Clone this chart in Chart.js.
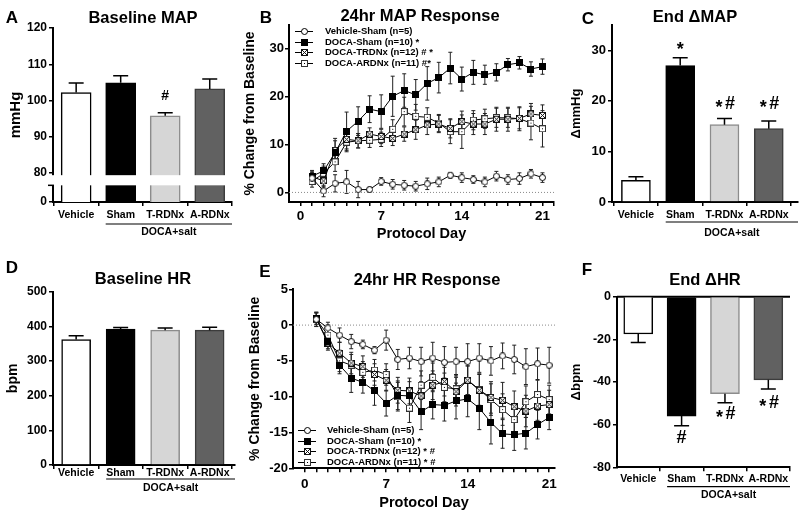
<!DOCTYPE html>
<html>
<head>
<meta charset="utf-8">
<script src="https://cdn.jsdelivr.net/npm/chart.js@4.4.1/dist/chart.umd.min.js"></script>
<style>
  body { margin: 0; width: 800px; height: 518px; position: relative; overflow: hidden; background: #fff;
         font-family: "Liberation Sans", Arial, sans-serif; font-weight: bold; color: #000; }
  .panel { position: absolute; }
  .txt { position: absolute; line-height: 1; white-space: nowrap; transform: translate(-50%, -50%); }
  .letter { font-size: 17px; }
  .title { font-size: 16.5px; }
</style>
</head>
<body>
<div class="panel" style="left:0;top:0;width:260px;height:250px"><canvas id="cA"></canvas></div>
<div class="panel" style="left:238px;top:0;width:322px;height:250px"><canvas id="cB"></canvas></div>
<div class="panel" style="left:560px;top:0;width:240px;height:250px"><canvas id="cC"></canvas></div>
<div class="panel" style="left:0;top:250px;width:260px;height:268px"><canvas id="cD"></canvas></div>
<div class="panel" style="left:238px;top:250px;width:326px;height:268px"><canvas id="cE"></canvas></div>
<div class="panel" style="left:560px;top:250px;width:240px;height:268px"><canvas id="cF"></canvas></div>

<div class="txt letter" style="left:12px;top:17px">A</div>
<div class="txt letter" style="left:266px;top:17px">B</div>
<div class="txt letter" style="left:588px;top:18px">C</div>
<div class="txt letter" style="left:12px;top:267px">D</div>
<div class="txt letter" style="left:265px;top:271px">E</div>
<div class="txt letter" style="left:587px;top:269px">F</div>

<div class="txt title" style="left:143px;top:17px">Baseline MAP</div>
<div class="txt title" style="left:420px;top:15px">24hr MAP Response</div>
<div class="txt title" style="left:695px;top:16px">End ΔMAP</div>
<div class="txt title" style="left:143px;top:278px">Baseline HR</div>
<div class="txt title" style="left:427px;top:279px">24hr HR Response</div>
<div class="txt title" style="left:705px;top:279px">End ΔHR</div>

<script>
// groups for bar panels
const groups = ['Vehicle', 'Sham', 'T-RDNx', 'A-RDNx'];
const barFill = ['#ffffff', '#000000', '#d6d6d6', '#616161'];
const barEdge = ['#000000', '#000000', '#8c8c8c', '#3c3c3c'];

// A: baseline MAP (mmHg)
const baseMap = [102.2, 104.9, 95.8, 103.2];
const baseMapErr = [2.6, 1.9, 0.8, 2.7];
const baseMapMarks = ['', '', '#', ''];
const baseMapMarkAt = [null, null, 101.1, null];
const baseMapTicks = [72, 80, 90, 100, 110, 120];   // 72 is the "0" stub below the break

// C: end delta MAP
const endMap = [4.3, 27.0, 15.3, 14.5];
const endMapErr = [0.7, 1.5, 1.2, 1.5];
const endMapMarks = ['', '*', '*#', '*#'];
const endMapMarkAt = [null, 30.8, 19.4, 19.4];
const endMapTicks = [0, 10, 20, 30];

// D: baseline HR (bpm)
const baseHr = [362, 392, 389, 389];
const baseHrErr = [11, 4.5, 6, 8.5];
const baseHrTicks = [0, 100, 200, 300, 400, 500];

// F: end delta HR
const endHr = [-17.5, -56, -45.5, -39];
const endHrErr = [4, 4.5, 4.2, 4.3];
const endHrMarks = ['', '#', '*#', '*#'];
const endHrMarkAt = [null, -66.3, -55, -49.9];
const endHrTicks = [-80, -60, -40, -20, 0];

// B and E: daily time course
const days = [1, 2, 3, 4, 5, 6, 7, 8, 9, 10, 11, 12, 13, 14, 15, 16, 17, 18, 19, 20, 21];
const dayLabels = [0, 7, 14, 21];

const mapNames = ['Vehicle-Sham (n=5)', 'DOCA-Sham (n=10) *', 'DOCA-TRDNx (n=12) # *', 'DOCA-ARDNx (n=11) #*'];
const mapVehicle = [3.0, 0.3, 1.9, 2.2, 0.6, 0.6, 2.3, 1.7, 1.5, 1.3, 1.8, 2.2, 3.6, 3.1, 2.7, 2.2, 3.4, 2.7, 2.9, 3.9, 3.1];
const mapVehicleErr = [1.2, 1.2, 1.8, 2.4, 1.7, 0.5, 0.8, 1.0, 1.0, 1.0, 1.2, 1.0, 0.6, 1.0, 0.8, 1.0, 1.0, 1.0, 1.2, 0.9, 1.0];
const mapSham = [3.4, 4.5, 8.3, 12.8, 14.9, 17.4, 16.9, 20.1, 21.3, 20.4, 22.8, 24.0, 26.0, 23.7, 25.1, 24.6, 25.1, 26.7, 27.1, 25.8, 26.3];
const mapShamErr = [1.2, 1.5, 2.5, 4.0, 3.0, 2.8, 3.5, 4.2, 3.5, 3.2, 3.5, 3.2, 3.3, 2.5, 2.5, 2.0, 1.8, 1.3, 1.3, 1.5, 1.6];
const mapTrdn = [3.3, 2.4, 8.8, 11.1, 10.8, 12.2, 11.7, 11.3, 12.2, 13.1, 14.1, 14.3, 13.4, 14.8, 14.3, 14.3, 15.3, 15.3, 15.5, 16.4, 16.1];
const mapTrdnErr = [1.0, 1.2, 2.5, 2.0, 1.5, 1.3, 1.5, 1.5, 1.5, 2.0, 2.0, 1.8, 2.0, 2.2, 2.2, 2.2, 2.5, 2.5, 2.2, 2.2, 2.2];
const mapArdn = [2.3, 4.0, 6.4, 10.5, 10.8, 10.9, 11.1, 13.2, 16.9, 15.9, 15.7, 14.5, 12.7, 12.7, 15.1, 15.4, 15.6, 15.6, 15.4, 14.5, 13.3];
const mapArdnErr = [1.2, 1.5, 2.0, 2.0, 1.5, 1.5, 1.5, 2.0, 3.0, 2.5, 2.0, 1.8, 2.5, 3.5, 2.0, 2.0, 2.0, 2.0, 2.5, 3.5, 3.8];
const mapYTicks = [0, 10, 20, 30];

const hrNames = ['Vehicle-Sham (n=5)', 'DOCA-Sham (n=10) *', 'DOCA-TRDNx (n=12) * #', 'DOCA-ARDNx (n=11) * #'];
const hrVehicle = [0.8, -0.4, -1.4, -2.3, -2.7, -3.5, -2.1, -4.8, -4.6, -5.1, -4.6, -5.2, -5.1, -5.1, -4.6, -5.0, -4.3, -4.8, -5.8, -5.4, -5.6];
const hrVehicleErr = [1.0, 0.8, 1.0, 1.0, 0.6, 0.5, 1.4, 1.4, 1.5, 2.0, 2.2, 2.2, 2.0, 2.5, 2.0, 2.0, 1.8, 2.0, 2.5, 2.2, 2.5];
const hrSham = [0.9, -2.3, -5.6, -7.4, -8.0, -9.2, -10.9, -9.8, -9.9, -12.1, -11.1, -11.2, -10.6, -10.3, -11.6, -13.6, -15.2, -15.3, -15.1, -13.9, -12.9];
const hrShamErr = [0.8, 1.0, 1.2, 2.0, 1.5, 2.0, 1.8, 2.0, 2.0, 2.5, 2.0, 2.2, 2.5, 2.5, 3.0, 3.0, 2.0, 2.2, 2.2, 2.0, 1.7];
const hrTrdn = [0.9, -2.5, -3.9, -5.3, -5.8, -6.9, -7.7, -9.1, -9.2, -9.9, -8.4, -7.9, -9.3, -7.7, -9.1, -10.1, -10.5, -11.4, -12.0, -11.3, -11.1];
const hrTrdnErr = [0.8, 1.0, 1.5, 1.5, 1.5, 1.5, 1.5, 1.8, 1.8, 2.0, 2.0, 2.0, 2.0, 2.0, 2.2, 2.2, 2.5, 2.2, 2.2, 2.0, 2.0];
const hrArdn = [0.8, -1.4, -5.0, -5.6, -6.6, -6.3, -6.9, -10.0, -11.6, -8.4, -7.3, -8.7, -8.9, -7.7, -9.0, -10.4, -11.8, -13.2, -10.7, -9.7, -10.4];
const hrArdnErr = [1.0, 1.0, 1.5, 1.5, 1.5, 1.5, 1.5, 2.0, 2.0, 2.0, 2.0, 2.0, 2.0, 2.0, 2.2, 2.2, 2.2, 2.2, 2.2, 2.0, 2.0];
const hrYTicks = [-20, -15, -10, -5, 0, 5];

Chart.defaults.font.family = '"Liberation Sans", Arial, sans-serif';
Chart.defaults.font.weight = 'bold';
Chart.defaults.color = '#000';
Chart.defaults.animation = false;

// little marker images for the four groups
function marker(kind) {
  const c = document.createElement('canvas');
  c.width = c.height = 7;
  const g = c.getContext('2d');
  g.lineWidth = 1;
  g.strokeStyle = '#000';
  g.fillStyle = '#fff';
  if (kind === 'circle') {
    g.beginPath(); g.arc(3.5, 3.5, 3, 0, Math.PI * 2); g.fill(); g.stroke();
  } else if (kind === 'filled') {
    g.fillStyle = '#000'; g.fillRect(0, 0, 7, 7);
  } else {
    g.fillRect(0, 0, 7, 7);
    g.strokeStyle = kind === 'cross' ? '#111' : '#333';
    g.strokeRect(0.5, 0.5, 6, 6);
    if (kind === 'cross') {
      g.beginPath(); g.moveTo(1, 1); g.lineTo(6, 6); g.moveTo(6, 1); g.lineTo(1, 6); g.stroke();
    } else {
      g.fillStyle = '#000'; g.fillRect(3, 3, 1, 1);
    }
  }
  return c;
}
const markers = [marker('circle'), marker('filled'), marker('cross'), marker('dot')];

// error bars: one-sided on bars, two-sided on the time courses
function drawErrors(chart, cap, twoSided) {
  const { ctx } = chart;
  const xs = chart.scales.x, ys = chart.scales.y;
  ctx.save();
  ctx.strokeStyle = twoSided ? '#222' : '#000';
  ctx.lineWidth = twoSided ? 1 : 1.5;
  chart.data.datasets.forEach(ds => {
    if (!ds.errors) return;
    ds.data.forEach((p, i) => {
      const e = ds.errors[i];
      const x = xs.getPixelForValue(p.x);
      const dir = p.y < 0 ? -1 : 1;
      const y0 = ys.getPixelForValue(twoSided ? p.y - e : p.y);
      const y1 = ys.getPixelForValue(twoSided ? p.y + e : p.y + dir * e);
      ctx.beginPath();
      ctx.moveTo(x, y0); ctx.lineTo(x, y1);
      ctx.moveTo(x - cap, y1); ctx.lineTo(x + cap, y1);
      if (twoSided) { ctx.moveTo(x - cap, y0); ctx.lineTo(x + cap, y0); }
      ctx.stroke();
    });
  });
  ctx.restore();
}
const errorBars = {
  id: 'errorBars',
  beforeDatasetsDraw(chart) { if (chart.config.type === 'line') drawErrors(chart, 2, true); },
  afterDatasetsDraw(chart) { if (chart.config.type === 'bar') drawErrors(chart, 7.5, false); }
};

// significance symbols above / below the bars
const barMarks = {
  id: 'barMarks',
  afterDatasetsDraw(chart, args, o) {
    const ds = chart.data.datasets[0];
    if (!ds.marks) return;
    const { ctx } = chart;
    ctx.save();
    ctx.font = 'bold ' + o.size + 'px "Liberation Sans"';
    ctx.textAlign = 'center';
    ctx.textBaseline = 'middle';
    ctx.fillStyle = '#000';
    ds.marks.forEach((m, i) => {
      if (!m) return;
      const x = chart.scales.x.getPixelForValue(i);
      const y = chart.scales.y.getPixelForValue(ds.markAt[i]);
      const chars = m.split('');
      const w = o.size * 0.62;
      chars.forEach((ch, k) => {
        const cx = x + (k - (chars.length - 1) / 2) * w;
        ctx.fillText(ch, cx, ch === '*' ? y + o.size * 0.22 : y);
      });
    });
    ctx.restore();
  }
};

// "DOCA+salt" group line under the x axis
const docaLine = {
  id: 'doca',
  afterDraw(chart, args, o) {
    if (!o.text) return;
    const { ctx, chartArea } = chart;
    const x0 = chart.scales.x.getPixelForValue(1) - o.barWidth / 2;
    const x1 = chartArea.right;
    ctx.save();
    ctx.strokeStyle = '#000';
    ctx.lineWidth = 1.2;
    ctx.beginPath();
    ctx.moveTo(x0, chartArea.bottom + o.line);
    ctx.lineTo(x1, chartArea.bottom + o.line);
    ctx.stroke();
    ctx.font = 'bold 10.5px "Liberation Sans"';
    ctx.textAlign = 'center';
    ctx.textBaseline = 'middle';
    ctx.fillStyle = '#000';
    ctx.fillText(o.text, (x0 + x1) / 2, chartArea.bottom + o.textAt);
    ctx.restore();
  }
};

// broken y axis for panel A
const axisBreak = {
  id: 'axisBreak',
  afterDraw(chart, args, o) {
    if (!o.from) return;
    const { ctx, chartArea } = chart;
    const ys = chart.scales.y;
    const yTop = ys.getPixelForValue(o.from);
    const yBot = ys.getPixelForValue(o.to);
    ctx.save();
    ctx.fillStyle = '#fff';
    ctx.fillRect(chartArea.left - 2, yTop, chartArea.right - chartArea.left + 2, yBot - yTop);
    ctx.strokeStyle = '#000';
    ctx.lineWidth = 1.5;
    ctx.beginPath();
    ctx.moveTo(chartArea.left - 5, yBot);
    ctx.lineTo(chartArea.left + 1, yBot);
    ctx.stroke();
    ctx.restore();
  }
};

// horizontal reference line at y = 0
const zeroLine = {
  id: 'zeroLine',
  beforeDatasetsDraw(chart, args, o) {
    if (!o.color) return;
    const { ctx, chartArea } = chart;
    const y = chart.scales.y.getPixelForValue(0);
    ctx.save();
    ctx.strokeStyle = o.color;
    ctx.lineWidth = o.width;
    ctx.setLineDash(o.dash);
    ctx.beginPath();
    ctx.moveTo(chartArea.left, y);
    ctx.lineTo(chartArea.right, y);
    ctx.stroke();
    ctx.restore();
  }
};

// legend drawn inside the plot
const innerLegend = {
  id: 'innerLegend',
  afterDraw(chart, args, o) {
    if (o.x == null) return;
    const { ctx } = chart;
    ctx.save();
    ctx.font = 'bold 9.5px "Liberation Sans"';
    ctx.textBaseline = 'middle';
    ctx.fillStyle = '#000';
    ctx.strokeStyle = '#000';
    ctx.lineWidth = 1;
    chart.data.datasets.forEach((ds, k) => {
      const y = Math.round(o.y + k * o.step);
      ctx.beginPath(); ctx.moveTo(o.x - 9, y + 0.5); ctx.lineTo(o.x + 9, y + 0.5); ctx.stroke();
      ctx.drawImage(ds.pointStyle, o.x - 3, y - 3);
      ctx.fillText(ds.label, o.tx, y);
    });
    ctx.restore();
  }
};

function axisLook(tl) {
  return {
    grid: { drawOnChartArea: false, tickLength: tl, color: '#000', lineWidth: 1.5 },
    border: { color: '#000', width: 2 }
  };
}

function barPanel(id, d) {
  return new Chart(document.getElementById(id), {
    type: 'bar',
    data: {
      datasets: [{
        data: d.values.map((v, i) => ({ x: i, y: v })),
        errors: d.errors,
        marks: d.marks,
        markAt: d.markAt,
        backgroundColor: barFill,
        borderColor: barEdge,
        borderWidth: 1.5,
        barThickness: d.barWidth
      }]
    },
    options: {
      responsive: true,
      maintainAspectRatio: false,
      events: [],
      layout: { padding: { top: d.area.top, right: d.area.right, left: 0, bottom: 0 } },
      plugins: {
        legend: { display: false },
        tooltip: { enabled: false },
        doca: { text: 'DOCA+salt', line: d.doca[0], textAt: d.doca[1], barWidth: d.barWidth },
        barMarks: { size: d.markSize || 17 },
        axisBreak: d.brk || {},
        zeroLine: d.zero || {}
      },
      scales: {
        x: Object.assign(axisLook(4), {
          type: 'linear', offset: false, min: d.xRange[0], max: d.xRange[1],
          afterBuildTicks: s => { s.ticks = groups.map((g, i) => ({ value: i })); },
          afterFit: s => { s.height = d.area.xh; },
          ticks: { callback: v => groups[v], font: { size: 10.5, lineHeight: 1 }, padding: d.xPad,
                   autoSkip: false, maxRotation: 0 }
        }),
        y: Object.assign(axisLook(4), {
          min: d.yTicks[0], max: d.yMax != null ? d.yMax : d.yTicks[d.yTicks.length - 1],
          afterBuildTicks: s => { s.ticks = d.yTicks.map(v => ({ value: v })); },
          afterFit: s => { s.width = d.area.left; },
          ticks: { font: { size: d.tickSize }, padding: 2, callback: d.yLabel || (v => v) },
          title: { display: true, text: d.yTitle, font: { size: d.titleSize },
                   padding: { top: d.titlePad, bottom: 0 } }
        })
      }
    },
    plugins: [errorBars, barMarks, docaLine, axisBreak, zeroLine]
  });
}

function linePanel(id, d) {
  return new Chart(document.getElementById(id), {
    type: 'line',
    data: {
      datasets: d.series.map((vals, k) => ({
        label: d.names[k],
        data: days.map((day, i) => ({ x: day, y: vals[i] })),
        errors: d.errors[k],
        borderColor: '#000',
        borderWidth: 1,
        pointStyle: markers[k],
        pointRadius: 3.5,
        tension: 0
      }))
    },
    options: {
      responsive: true,
      maintainAspectRatio: false,
      events: [],
      layout: { padding: { top: d.area.top, right: d.area.right, left: 0, bottom: 0 } },
      plugins: {
        legend: { display: false },
        tooltip: { enabled: false },
        zeroLine: { color: '#8a8a8a', width: 1, dash: [1, 2] },
        innerLegend: d.legend
      },
      scales: {
        x: Object.assign(axisLook(4), {
          type: 'linear', min: -1, max: d.xMax,
          afterBuildTicks: s => {
            const t = [];
            for (let v = 0; v <= d.xMax; v++) t.push({ value: v });
            s.ticks = t;
          },
          afterFit: s => { s.height = d.area.xh; },
          ticks: { callback: v => dayLabels.includes(v) ? v : '', font: { size: 13.5, lineHeight: 1 },
                   padding: d.xPad, autoSkip: false, maxRotation: 0 },
          title: { display: true, text: 'Protocol Day', font: { size: 14.5 },
                   padding: { top: 0, bottom: d.xTitlePad } }
        }),
        y: Object.assign(axisLook(4), {
          min: d.yMin, max: d.yMax,
          afterBuildTicks: s => { s.ticks = d.yTicks.map(v => ({ value: v })); },
          afterFit: s => { s.width = d.area.left; },
          ticks: { font: { size: 13 }, padding: 1 },
          title: { display: true, text: '% Change from Baseline', font: { size: 14 },
                   padding: { top: d.titlePad, bottom: 0 } }
        })
      }
    },
    plugins: [errorBars, zeroLine, innerLegend]
  });
}

barPanel('cA', {
  values: baseMap, errors: baseMapErr, marks: baseMapMarks, markAt: baseMapMarkAt, markSize: 14,
  yTicks: baseMapTicks, yLabel: v => (v === 72 ? '0' : v), yTitle: 'mmHg', titleSize: 15, titlePad: 7,
  tickSize: 12, barWidth: 30, xRange: [-0.52, 3.5], xPad: 3.5,
  area: { left: 53, top: 28, right: 28, xh: 48 }, doca: [22, 30],
  brk: { from: 79.4, to: 76.6 }
});

barPanel('cC', {
  values: endMap, errors: endMapErr, marks: endMapMarks, markAt: endMapMarkAt, markSize: 18,
  yTicks: endMapTicks, yMax: 35, yTitle: 'ΔmmHg', titleSize: 13, titlePad: 9,
  tickSize: 13, barWidth: 29, xRange: [-0.54, 3.66], xPad: 3.5,
  area: { left: 52, top: 25, right: 2, xh: 48 }, doca: [20, 31]
});

barPanel('cD', {
  values: baseHr, errors: baseHrErr,
  yTicks: baseHrTicks, yTitle: 'bpm', titleSize: 14, titlePad: 4.5,
  tickSize: 12, barWidth: 29, xRange: [-0.52, 3.57], xPad: -1.5,
  area: { left: 53, top: 41.7, right: 25, xh: 53 }, doca: [14, 23]
});

barPanel('cF', {
  values: endHr, errors: endHrErr, marks: endHrMarks, markAt: endHrMarkAt, markSize: 18,
  yTicks: endHrTicks, yTitle: 'Δbpm', titleSize: 13, titlePad: 9,
  tickSize: 12.5, barWidth: 29, xRange: [-0.49, 3.5], xPad: 2.7,
  area: { left: 57, top: 46.7, right: 10, xh: 50.7 }, doca: [19.4, 27.7],
  zero: { color: '#000', width: 2, dash: [] }
});

linePanel('cB', {
  series: [mapVehicle, mapSham, mapTrdn, mapArdn],
  errors: [mapVehicleErr, mapShamErr, mapTrdnErr, mapArdnErr],
  names: mapNames, yTicks: mapYTicks, yMin: -2, yMax: 35,
  xMax: 22, xPad: 3.5, xTitlePad: 7.6, titlePad: 3.6,
  area: { left: 51, top: 25, right: 6, xh: 48 },
  legend: { x: 66, tx: 87, y: 31, step: 10.7 }
});

linePanel('cE', {
  series: [hrVehicle, hrSham, hrTrdn, hrArdn],
  errors: [hrVehicleErr, hrShamErr, hrTrdnErr, hrArdnErr],
  names: hrNames, yTicks: hrYTicks, yMin: -20, yMax: 5,
  xMax: 21.5, xPad: 5.2, xTitlePad: 6.6, titlePad: 8.6,
  area: { left: 55, top: 39.3, right: 9, xh: 49.7 },
  legend: { x: 69, tx: 89, y: 180, step: 10.5 }
});
</script>
</body>
</html>
